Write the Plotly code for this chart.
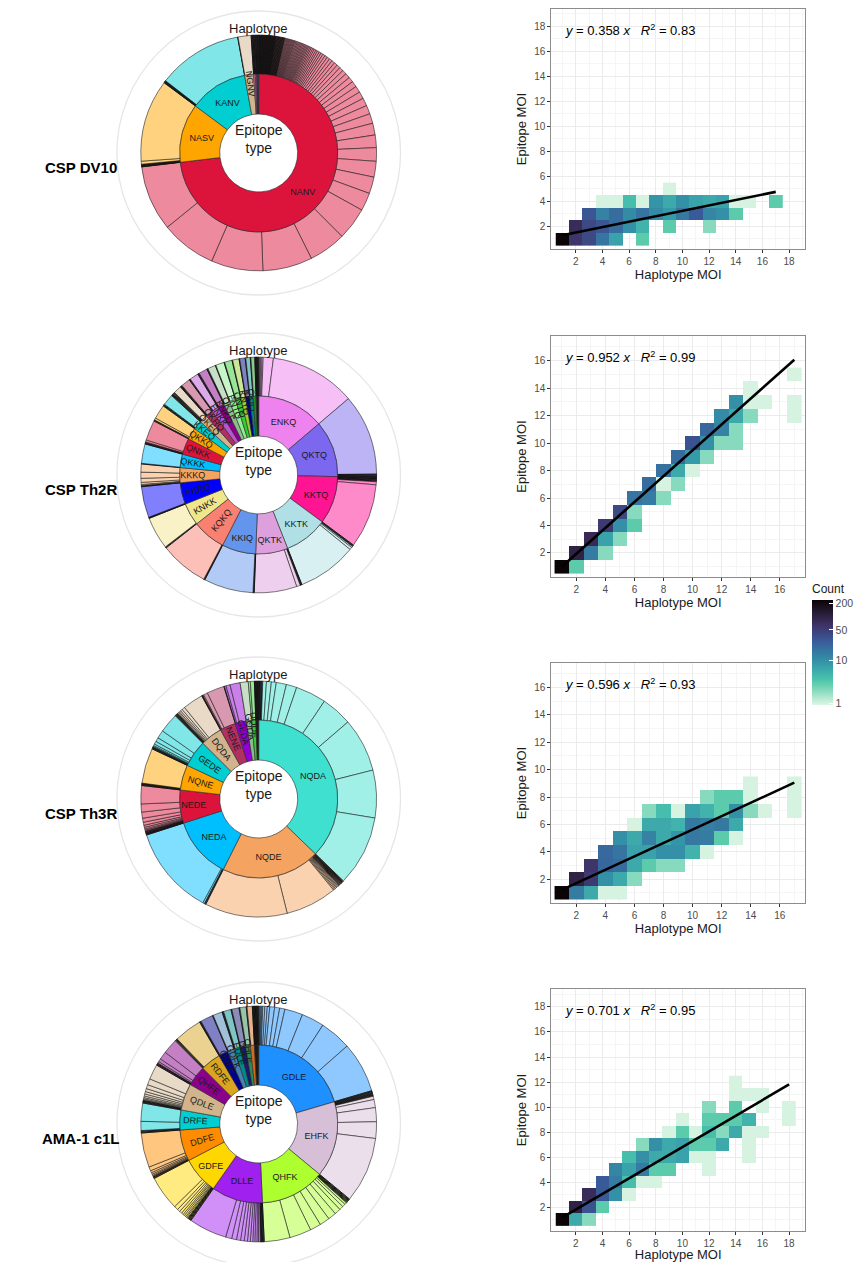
import math
import plotly.graph_objects as go

FIG_W, FIG_H = 857, 1262
FONT = "Liberation Sans, Arial, sans-serif"

# ---------------- Donut data (inner ring = epitope types, outer ring = haplotypes) ----------------
# sizes are shares of the circle in tenths of a degree
dv10_epitopes = ["NANV", "NASV", "KANV", "NGNV", "NANA", "NAKV", "KASV", "NTNV"]
dv10_labelled = [1, 1, 1, 1, 0, 0, 0, 0]
dv10_colors = ["#DC143C", "#FFA500", "#00CED1", "#D2B48C", "#DB7093", "#BA55D3", "#8B008B", "#2F4F4F"]
dv10_haplotypes = [
    [2, 2, 2, 2, 2, 2, 2, 2, 2, 2, 2, 2, 2, 2, 2, 2, 2, 2, 2, 2, 2, 2, 2, 2, 2, 2, 2, 2, 2, 2,
     2, 2, 2, 2, 2, 2, 2, 2, 2, 2, 2, 2, 2,
     4, 4, 4, 4, 4, 4, 4, 4, 4, 4, 4, 5, 5, 5, 5, 5, 5, 5, 5, 5, 5, 6, 6, 6, 6, 6, 6, 6, 6, 6, 6,
     6, 6, 7, 7, 8, 8, 9, 9, 10, 10, 11, 12, 13, 14, 15, 16, 17, 18, 20, 22, 24, 26, 29, 32, 35, 39, 43, 48,
     58, 62, 67, 78, 82, 89, 161, 184, 245, 256, 274, 323],
    [2, 2, 2, 2, 2, 3, 15, 406],
    [2, 2, 2, 2, 2, 2, 419],
    [2, 64],
    [3, 3, 3, 3],
    [3, 3, 4],
    [2, 3, 3],
    [2, 2, 3],
]

th2r_epitopes = ["ENKQ", "QKTQ", "KKTQ", "KKTK", "QKTK", "KKIQ", "KQKQ", "KNKK", "KKRQ", "KKKQ", "QKKK",
                 "QNKK", "QKKQ", "KKEQ", "QKEQ", "QKRQ", "ENKK", "KNKQ", "QKTE", "ENTQ", "QNTQ", "KNTQ",
                 "KKTE", "QKIQ", "EKKQ", "KKKK"]
th2r_labelled = [1] * 13 + [1, 1, 1, 1, 1, 1, 1, 1, 1, 1, 1, 0, 0]
th2r_colors = ["#EE82EE", "#7B68EE", "#FF1493", "#B0E0E6", "#DDA0DD", "#6495ED", "#FA8072", "#F0E68C",
               "#0000FF", "#F4A460", "#00BFFF", "#DC143C", "#FFA500", "#00CED1", "#D2B48C", "#B03060",
               "#BA55D3", "#8B008B", "#8FBC8F", "#90EE90", "#32CD32", "#9ACD32", "#00008B", "#008B8B",
               "#228B22", "#1A1A1A"]
th2r_haplotypes = [
    [5, 5, 6, 6, 50, 424],
    [400, 4, 4, 4, 4],
    [3, 3, 3, 4, 4, 4, 15, 317],
    [3, 3, 3, 6, 12, 293],
    [3, 3, 3, 18, 210],
    [3, 3, 244],
    [3, 3, 240],
    [3, 3, 160],
    [3, 3, 153],
    [3, 3, 5, 10, 20, 30, 40],
    [3, 96],
    [3, 3, 4, 10, 100],
    [3, 3, 10, 70],
    [3, 3, 4, 55],
    [3, 3, 3, 3, 4, 4, 40],
    [3, 3, 4, 45],
    [3, 3, 44],
    [4, 4, 42],
    [3, 3, 39],
    [3, 42],
    [3, 37],
    [3, 32],
    [3, 27],
    [3, 22],
    [3, 19],
    [3, 3, 3, 3, 3, 4],
]

th3r_epitopes = ["NQDA", "NQDE", "NEDA", "NEDE", "NQNE", "GEDE", "DQDA", "NENE", "GEDA", "GQDA", "DQDE", "NQNA"]
th3r_labelled = [1, 1, 1, 1, 1, 1, 1, 1, 1, 1, 1, 0]
th3r_colors = ["#40E0D0", "#F4A460", "#00BFFF", "#DC143C", "#FFA500", "#00CED1", "#D2B48C", "#B03060",
               "#9400D3", "#8FBC8F", "#32CD32", "#1A1A1A"]
th3r_haplotypes = [
    [4, 4, 4, 4, 4, 18, 24, 24, 50, 52, 151, 153, 266, 235, 348],
    [4, 4, 4, 4, 4, 4, 4, 4, 5, 5, 5, 6, 6, 6, 254, 407],
    [4, 4, 8, 439],
    [3, 3, 3, 3, 4, 4, 5, 6, 8, 10, 15, 20, 30, 40, 90],
    [3, 3, 3, 3, 174],
    [3, 3, 3, 4, 5, 8, 15, 20, 40, 97],
    [3, 3, 3, 3, 4, 5, 6, 8, 10, 15, 101],
    [3, 3, 5, 20, 86],
    [3, 8, 20, 50],
    [40],
    [10, 20],
    [3, 3, 3, 3, 3, 3, 3],
]

ama1_epitopes = ["GDLE", "EHFK", "QHFK", "DLLE", "GDFE", "DDFE", "DRFE", "QDLE", "QHFE", "RDFE",
                 "QDFE", "GDFK", "EDLE", "DDLE", "QHLE", "RDLE", "KHFK"]
ama1_labelled = [1, 1, 1, 1, 1, 1, 1, 1, 1, 1, 1, 1, 1, 1, 1, 0, 0]
ama1_colors = ["#1E90FF", "#D8BFD8", "#ADFF2F", "#A020F0", "#FFD700", "#FF8C00", "#00CED1", "#D2B48C",
               "#8B008B", "#DAA520", "#00008B", "#4682B4", "#008B8B", "#191970", "#2E8B57", "#D2691E",
               "#1A1A1A"]
ama1_haplotypes = [
    [5, 5, 5, 5, 10, 12, 12, 24, 25, 26, 89, 112, 156, 250],
    [4, 4, 4, 4, 4, 4, 4, 16, 40, 69, 82, 325],
    [4, 4, 4, 4, 4, 4, 10, 15, 20, 30, 40, 50, 54, 107, 127],
    [4, 4, 4, 4, 4, 8, 8, 10, 10, 12, 14, 16, 18, 20, 24, 30, 188],
    [4, 4, 4, 4, 4, 6, 6, 8, 8, 10, 12, 14, 20, 170],
    [4, 4, 4, 5, 6, 8, 10, 20, 170],
    [4, 4, 4, 45, 90],
    [4, 4, 4, 4, 5, 6, 8, 10, 12, 15, 20, 30, 75],
    [4, 4, 4, 8, 15, 40, 75],
    [4, 4, 4, 137],
    [4, 4, 62],
    [4, 46],
    [4, 4, 37],
    [4, 36],
    [4, 31],
    [4, 26],
    [3, 3, 3, 3, 3, 3, 3, 3, 3, 4],
]

row_titles = ["CSP DV10", "CSP Th2R", "CSP Th3R", "AMA-1 c1L"]

# ---------------- Heatmap data: (haplotype MOI, epitope MOI, count) ----------------
dv10_hap_moi = [1, 2, 3, 4, 5, 7, 2, 3, 4, 5, 6, 7, 9, 12, 3, 4, 5, 6, 7, 8, 9, 10, 11, 12, 13, 14,
                4, 5, 6, 7, 8, 9, 10, 11, 12, 13, 14, 15, 17, 9]
dv10_epi_moi = [1, 1, 1, 1, 1, 1, 2, 2, 2, 2, 2, 2, 2, 2, 3, 3, 3, 3, 3, 3, 3, 3, 3, 3, 3, 3,
                4, 4, 4, 4, 4, 4, 4, 4, 4, 4, 4, 4, 4, 5]
dv10_count = [240, 60, 40, 17, 7, 3, 75, 40, 30, 20, 10, 5, 3, 2, 30, 13, 20, 11, 17, 11, 8, 16, 28, 12, 10, 3,
              1, 1, 4, 1, 9, 6, 10, 7, 6, 7, 1, 1, 3, 1]

th2r_hap_moi = [1, 2, 2, 3, 4, 3, 4, 5, 4, 5, 6, 5, 6, 6, 7, 8, 7, 8, 9, 8, 9, 10, 9, 10, 11,
                10, 11, 12, 13, 11, 12, 13, 12, 13, 14, 17, 13, 14, 15, 17, 14, 17]
th2r_epi_moi = [1, 1, 2, 2, 2, 3, 3, 3, 4, 4, 4, 5, 5, 6, 6, 6, 7, 7, 7, 8, 8, 8, 9, 9, 9,
                10, 10, 10, 10, 11, 11, 11, 12, 12, 12, 12, 13, 13, 13, 13, 14, 15]
th2r_count = [240, 3, 100, 15, 2, 80, 7, 2, 55, 10, 3, 40, 2, 17, 15, 2, 20, 1, 2, 18, 6, 1, 20, 8, 2,
              32, 10, 2, 2, 22, 13, 2, 11, 6, 2, 1, 10, 1, 1, 1, 1, 1]

th3r_hap_moi = [1, 2, 3, 4, 5, 2, 3, 4, 5, 6, 3, 4, 5, 6, 7, 8, 9, 4, 5, 6, 7, 8, 9, 10, 11,
                5, 6, 7, 8, 9, 10, 11, 12, 13, 6, 7, 8, 9, 10, 11, 12, 13,
                7, 8, 9, 10, 11, 12, 13, 14, 15, 17, 11, 12, 13, 14, 17, 14, 17]
th3r_epi_moi = [1, 1, 1, 1, 1, 2, 2, 2, 2, 2, 3, 3, 3, 3, 3, 3, 3, 4, 4, 4, 4, 4, 4, 4, 4,
                5, 5, 5, 5, 5, 5, 5, 5, 5, 6, 6, 6, 6, 6, 6, 6, 6,
                7, 7, 7, 7, 7, 7, 7, 7, 7, 7, 8, 8, 8, 8, 8, 9, 9]
th3r_count = [240, 15, 6, 1, 1, 100, 55, 10, 6, 2, 60, 22, 20, 6, 3, 2, 2, 21, 17, 7, 7, 10, 10, 5, 1,
              10, 6, 13, 6, 9, 16, 15, 3, 1, 1, 6, 6, 5, 16, 14, 16, 6,
              2, 4, 1, 7, 5, 3, 10, 2, 1, 1, 2, 3, 3, 1, 1, 1, 1]

ama1_hap_moi = [1, 2, 3, 2, 3, 4, 3, 4, 5, 6, 4, 5, 6, 7, 8, 5, 6, 7, 8, 9, 12,
                6, 7, 8, 9, 10, 11, 12, 15, 7, 8, 9, 10, 11, 12, 13, 15,
                9, 10, 11, 12, 13, 14, 15, 16, 10, 12, 13, 14, 15, 18, 12, 14, 16, 18, 14, 15, 16, 14]
ama1_epi_moi = [1, 1, 1, 2, 2, 2, 3, 3, 3, 3, 4, 4, 4, 4, 4, 5, 5, 5, 5, 5, 5,
                6, 6, 6, 6, 6, 6, 6, 6, 7, 7, 7, 7, 7, 7, 7, 7,
                8, 8, 8, 8, 8, 8, 8, 8, 9, 9, 9, 9, 9, 9, 10, 10, 10, 10, 11, 11, 11, 12]
ama1_count = [240, 6, 2, 100, 32, 3, 75, 28, 10, 1, 28, 15, 4, 1, 1, 12, 7, 15, 3, 3, 1,
              4, 10, 6, 6, 7, 1, 1, 1, 2, 10, 6, 7, 3, 3, 6, 1,
              1, 3, 1, 4, 2, 6, 1, 1, 1, 3, 3, 3, 5, 1, 2, 3, 1, 1, 1, 1, 1, 1]

fit_intercept = [1.07, 0.06, 0.72, 0.58]
fit_slope = [0.217, 0.942, 0.490, 0.624]
fit_x_end = [17, 17, 17, 18]
eq_slope = ["0.358", "0.952", "0.596", "0.701"]
eq_r2 = ["0.83", "0.99", "0.93", "0.95"]

# ---------------- layout geometry ----------------
donut_cx = 259
donut_cy = [153, 475, 799, 1124]
R_OUT, R_MID, R_HOLE = 118, 79, 39
panel_x = (552, 806)
panel_y = [(9, 249), (336, 577), (663, 903), (989, 1231)]
panel_xrange = [(0.17, 19.2), (0.28, 17.74), (0.28, 17.74), (0.17, 19.2)]
panel_yrange = [(0.19, 19.39), (0.25, 17.8), (0.25, 17.8), (0.12, 19.43)]


def px_x(v):
    return v / FIG_W


def px_y(v):
    return 1 - v / FIG_H


def lighten(hexcol, f=0.5):
    h = hexcol.lstrip("#")
    r, g, b = int(h[0:2], 16), int(h[2:4], 16), int(h[4:6], 16)
    r = round(r + (255 - r) * f)
    g = round(g + (255 - g) * f)
    b = round(b + (255 - b) * f)
    return "#%02X%02X%02X" % (r, g, b)


def circ_domain(cx, cy, r):
    return dict(x=[px_x(cx - r), px_x(cx + r)], y=[px_y(cy + r), px_y(cy - r)])


fig = go.Figure()
annotations = []
shapes = []

donuts = [
    (dv10_epitopes, dv10_labelled, dv10_colors, dv10_haplotypes),
    (th2r_epitopes, th2r_labelled, th2r_colors, th2r_haplotypes),
    (th3r_epitopes, th3r_labelled, th3r_colors, th3r_haplotypes),
    (ama1_epitopes, ama1_labelled, ama1_colors, ama1_haplotypes),
]

for i, (eps, lab, cols, haps) in enumerate(donuts):
    cy = donut_cy[i]
    # outer ring: haplotypes
    o_vals, o_labels, o_cols, o_lw = [], [], [], []
    for ep, col, hs in zip(eps, cols, haps):
        for j, v in enumerate(hs):
            o_vals.append(v)
            o_labels.append(f"{ep} haplotype {j + 1}")
            o_cols.append(lighten(col))
            o_lw.append(0.9 if v <= 4 else 0.55)
    fig.add_trace(go.Pie(
        values=o_vals, labels=o_labels, sort=False, direction="clockwise", rotation=0,
        hole=R_MID / R_OUT, domain=circ_domain(donut_cx, cy, R_OUT),
        marker=dict(colors=o_cols, line=dict(color="#111111", width=o_lw)),
        textinfo="none", textposition="none", showlegend=False, hoverinfo="label+value",
    ))
    # inner ring: epitope types
    in_vals = [sum(hs) for hs in haps]
    fig.add_trace(go.Pie(
        values=in_vals, labels=eps, text=eps,
        textinfo="text", textposition=["inside" if l else "none" for l in lab],
        insidetextorientation="auto",
        sort=False, direction="clockwise", rotation=0,
        hole=R_HOLE / R_MID, domain=circ_domain(donut_cx, cy, R_MID),
        marker=dict(colors=cols, line=dict(color="#262626", width=0.6)),
        textfont=dict(size=9, color="#1a1a1a", family=FONT),
        showlegend=False, hoverinfo="label+value",
    ))
    # light grey outer guide circle
    shapes.append(dict(type="circle", xref="paper", yref="paper",
                       x0=px_x(donut_cx - 142), x1=px_x(donut_cx + 142),
                       y0=px_y(cy + 142), y1=px_y(cy - 142),
                       line=dict(color="#e6e6e6", width=1.3), layer="below"))
    annotations.append(dict(x=px_x(donut_cx), y=px_y(cy - 14), xref="paper", yref="paper",
                            text="Epitope<br>type", showarrow=False, xanchor="center", yanchor="middle",
                            font=dict(size=14, color="#1a1a1a", family=FONT)))
    annotations.append(dict(x=px_x(donut_cx), y=px_y(cy - 125), xref="paper", yref="paper",
                            text="Haplotype", showarrow=False, xanchor="center", yanchor="middle",
                            font=dict(size=13, color="#1a1a1a", family=FONT)))
    annotations.append(dict(x=px_x(81), y=px_y(cy + 14), xref="paper", yref="paper",
                            text=f"<b>{row_titles[i]}</b>", showarrow=False, xanchor="center",
                            yanchor="middle", font=dict(size=15, color="#000000", family=FONT)))

# ---------------- heatmaps ----------------
heat = [
    (dv10_hap_moi, dv10_epi_moi, dv10_count),
    (th2r_hap_moi, th2r_epi_moi, th2r_count),
    (th3r_hap_moi, th3r_epi_moi, th3r_count),
    (ama1_hap_moi, ama1_epi_moi, ama1_count),
]

mako_r = [[0.0, "#DEF5E5"], [0.2, "#60CEAC"], [0.25, "#49C1AD"], [0.4, "#3497A9"], [0.5, "#357BA2"],
          [0.6, "#395D9C"], [0.75, "#3E356B"], [0.8, "#382A54"], [1.0, "#0B0405"]]

layout_axes = {}
for i, (hx, hy, hc) in enumerate(heat):
    nx, ny = max(hx), max(hy)
    z = [[None] * nx for _ in range(ny)]
    for a, b, c in zip(hx, hy, hc):
        z[b - 1][a - 1] = math.log10(c)
    xa = "x" if i == 0 else f"x{i + 1}"
    ya = "y" if i == 0 else f"y{i + 1}"
    fig.add_trace(go.Heatmap(
        x=list(range(1, nx + 1)), y=list(range(1, ny + 1)), z=z, coloraxis="coloraxis",
        xaxis=xa, yaxis=ya, hoverongaps=False,
    ))
    x0, x1 = 1, fit_x_end[i]
    fig.add_trace(go.Scatter(
        x=[x0, x1], y=[fit_intercept[i] + fit_slope[i] * x0, fit_intercept[i] + fit_slope[i] * x1],
        mode="lines", line=dict(color="black", width=2.6), xaxis=xa, yaxis=ya,
        showlegend=False, hoverinfo="skip",
    ))
    common = dict(
        showgrid=True, gridcolor="#ebebeb", gridwidth=1, zeroline=False,
        showline=True, mirror=True, linecolor="#8c8c8c", linewidth=1,
        ticks="outside", ticklen=3, tickcolor="#333333", tickwidth=1,
        tickfont=dict(size=10, color="#4d4d4d", family=FONT),
        tick0=0, dtick=2,
        minor=dict(dtick=1, tick0=0, showgrid=True, gridcolor="#f5f5f5", gridwidth=0.6, ticks=""),
    )
    xkey = "xaxis" if i == 0 else f"xaxis{i + 1}"
    ykey = "yaxis" if i == 0 else f"yaxis{i + 1}"
    layout_axes[xkey] = dict(
        common, domain=[px_x(panel_x[0]), px_x(panel_x[1])], range=list(panel_xrange[i]),
        anchor=ya, title=dict(text="Haplotype MOI", standoff=1, font=dict(size=13, color="#1a1a1a", family=FONT)),
    )
    layout_axes[ykey] = dict(
        common, domain=[px_y(panel_y[i][1]), px_y(panel_y[i][0])], range=list(panel_yrange[i]),
        anchor=xa, title=dict(text="Epitope MOI", standoff=4, font=dict(size=13, color="#1a1a1a", family=FONT)),
    )
    annotations.append(dict(
        x=px_x(564), y=px_y(panel_y[i][0] + 21), xref="paper", yref="paper",
        text=f"<i>y</i> = {eq_slope[i]} <i>x</i>&nbsp;&nbsp;&nbsp;<i>R</i><sup>2</sup> = {eq_r2[i]}",
        showarrow=False, xanchor="left", yanchor="middle",
        font=dict(size=13, color="#000000", family=FONT)))

fig.update_layout(
    width=FIG_W, height=FIG_H, margin=dict(l=0, r=0, t=0, b=0),
    paper_bgcolor="white", plot_bgcolor="white",
    font=dict(family=FONT),
    uniformtext=dict(minsize=9, mode="show"),
    coloraxis=dict(
        colorscale=mako_r, cmin=-0.03, cmax=2.385,
        colorbar=dict(
            title=dict(text="Count", side="top", font=dict(size=12, color="#1a1a1a", family=FONT)),
            x=px_x(812), xanchor="left", y=px_y(705), yanchor="bottom",
            len=124, lenmode="pixels", thickness=21, thicknessmode="pixels",
            tickvals=[0, 1, math.log10(50), math.log10(200)], ticktext=["1", "10", "50", "200"],
            ticks="inside", ticklen=4, tickcolor="white", outlinewidth=0,
            tickfont=dict(size=10.5, color="#4d4d4d", family=FONT), xpad=0, ypad=0,
        ),
    ),
    annotations=annotations,
    shapes=shapes,
    **layout_axes,
)

fig.write_html("out.html", config={"displayModeBar": False},
               post_script="document.body.style.margin='0px';document.body.style.overflow='hidden';")
